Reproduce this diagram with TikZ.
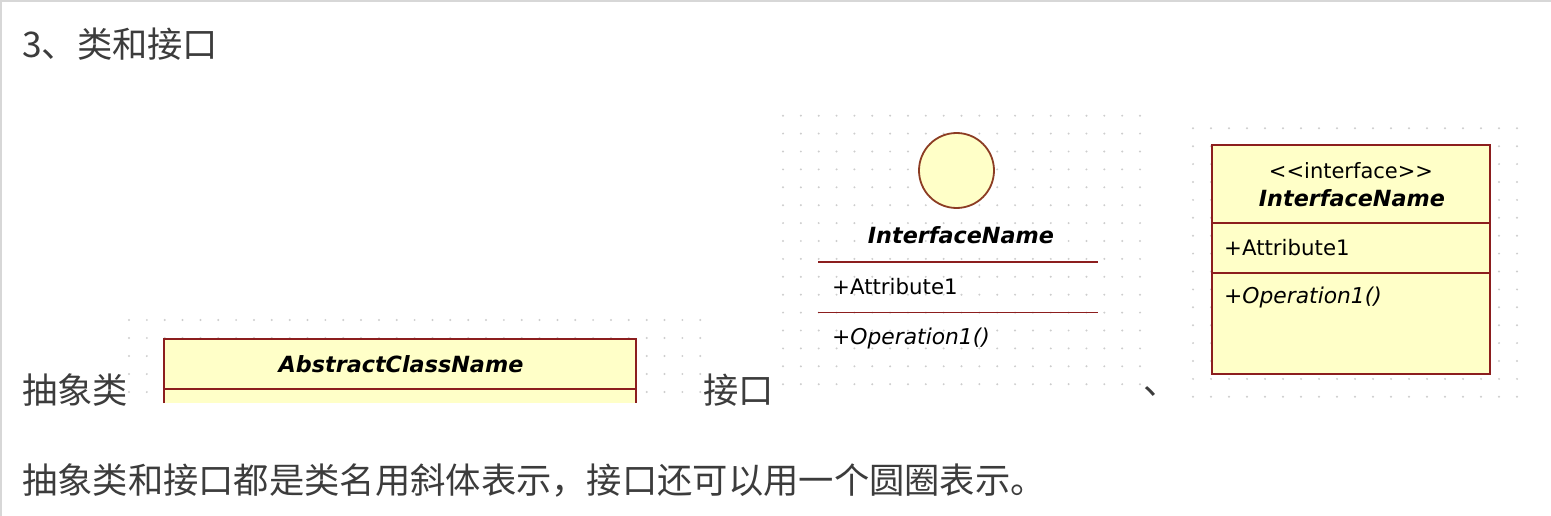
\documentclass[tikz,border=0pt]{standalone}
\usepackage{fontspec}
\newfontfamily\cjk{Noto Sans CJK SC}
\newfontfamily\umlf{DejaVu Sans}
\definecolor{umlfill}{RGB}{255,255,200}
\definecolor{umlline}{RGB}{140,30,30}
\definecolor{circline}{RGB}{140,60,35}
\definecolor{txt}{RGB}{60,60,60}
\definecolor{dotc}{RGB}{205,205,205}
\definecolor{framec}{RGB}{215,215,215}
\tikzset{
  cjktext/.style={inner sep=0pt, anchor=west, text=txt, font=\cjk\fontsize{35.3}{40}\selectfont},
  umlname/.style={inner sep=0pt, font=\umlf\bfseries\itshape\fontsize{22.3}{26}\selectfont},
  umlattr/.style={inner sep=0pt, anchor=west, font=\umlf\fontsize{21.3}{24}\selectfont},
  umlop/.style={inner sep=0pt, anchor=west, font=\umlf\itshape\fontsize{21.8}{24}\selectfont},
  umlstereo/.style={inner sep=0pt, font=\umlf\fontsize{21}{24}\selectfont},
  boxline/.style={draw=umlline, line width=1.7pt},
  griddot/.style={fill=dotc},
}
\begin{document}
\begin{tikzpicture}[x=1pt,y=-1pt]
\useasboundingbox (0,0) rectangle (1551,516);
\fill[white] (0,0) rectangle (1551,516);
% frame
\draw[framec, line width=2pt] (1,516) -- (1,1) -- (1551,1);
% dot grids
\foreach \i in {0,...,32} \foreach \j in {0,...,4}
  \fill[griddot] ({129+\i*17.85},{320+\j*18}) circle (1.1);
\foreach \i in {0,...,20} \foreach \j in {0,...,15}
  \fill[griddot] ({783+\i*17.85},{115.7+\j*17.9}) circle (1.1);
\foreach \i in {0,...,18} \foreach \j in {0,...,15}
  \fill[griddot] ({1193+\i*18},{128.3+\j*17.9}) circle (1.1);
% texts
\node[cjktext] (title) at (22,44) {3、类和接口};
\node[cjktext] (lblabs) at (22,390) {抽象类};
\node[cjktext] (lblif) at (703,390) {接口};
\node[cjktext] (comma) at (1143,392) {、};
\node[cjktext] (note) at (22,480) {抽象类和接口都是类名用斜体表示，接口还可以用一个圆圈表示。};
% abstract class
\fill[umlfill] (164,339) rectangle (636,403);
\draw[boxline] (164,403) -- (164,339) -- (636,339) -- (636,403);
\draw[boxline] (164,389) -- (636,389);
\node[umlname] (absname) at (401,364) {AbstractClassName};
% lollipop interface
\node[circle, draw=circline, fill=umlfill, line width=1.8pt, minimum size=75pt, inner sep=0pt] (circ) at (956.5,170.5) {};
\node[umlname] (ifname1) at (961,235) {InterfaceName};
\draw[draw=umlline, line width=1.6pt] (818,262) -- (1098,262);
\node[umlattr] (attr1) at (832,287) {+Attribute1};
\draw[draw=umlline, line width=1.6pt] (818,312.5) -- (1098,312.5);
\node[umlop] (op1) at (832,338) {+Operation1()};
% boxed interface
\draw[boxline, fill=umlfill] (1212,145) rectangle (1490,374);
\draw[boxline] (1212,223) -- (1490,223);
\draw[boxline] (1212,273) -- (1490,273);
\node[umlstereo] (stereo) at (1351,171) {<<interface>>};
\node[umlname] (ifname2) at (1352,198) {InterfaceName};
\node[umlattr] (attr2) at (1224,248) {+Attribute1};
\node[umlop] (op2) at (1224,297) {+Operation1()};
\end{tikzpicture}
\end{document}
